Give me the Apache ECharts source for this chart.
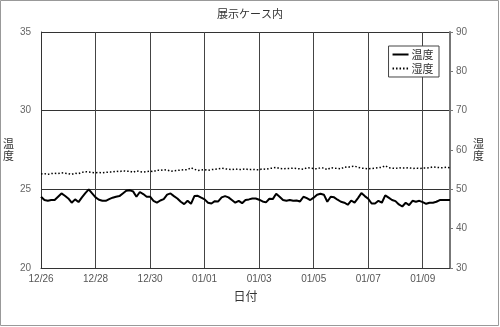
<!DOCTYPE html>
<html>
<head>
<meta charset="utf-8">
<script src="https://cdn.jsdelivr.net/npm/echarts@6/dist/echarts.min.js"></script>
<style>
html,body{margin:0;padding:0;background:#fff;}
#c{width:500px;height:327px;}
</style>
</head>
<body>
<div id="c"></div>
<script>
// Data: samples every 3 hours starting 12/26 00:00
var stepHours = 3;
var xTickLabels = ['12/26','12/28','12/30','01/01','01/03','01/05','01/07','01/09'];
var temperature = [
24.53,24.32,24.27,24.32,24.32,24.53,24.74,24.59,24.42,24.15,24.36,
24.19,24.49,24.76,25.00,24.74,24.49,24.34,24.27,24.27,24.38,
24.47,24.53,24.57,24.74,24.91,24.94,24.87,24.53,24.83,24.70,
24.53,24.53,24.27,24.15,24.29,24.38,24.66,24.74,24.57,24.42,
24.21,24.06,24.27,24.08,24.57,24.59,24.47,24.36,24.15,24.10,
24.25,24.23,24.49,24.57,24.49,24.32,24.15,24.27,24.12,24.32,24.36,24.42,
24.42,24.34,24.23,24.17,24.40,24.38,24.72,24.53,24.32,24.27,
24.32,24.27,24.29,24.23,24.53,24.44,24.32,24.47,24.66,24.72,
24.66,24.21,24.53,24.49,24.34,24.21,24.15,24.02,24.29,24.15,
24.44,24.76,24.57,24.40,24.10,24.10,24.27,24.15,24.62,24.47,
24.32,24.25,24.04,23.91,24.15,24.00,24.27,24.21,24.27,24.19,
24.08,24.15,24.15,24.21,24.32,24.32,24.32,24.32
];
var humidity = [
53.9,54.0,53.8,54.0,54.1,54.0,54.2,54.1,54.0,53.8,54.1,
54.0,54.3,54.5,54.4,54.3,54.2,54.3,54.2,54.3,54.4,
54.4,54.6,54.5,54.7,54.6,54.6,54.3,54.7,54.5,54.4,
54.5,54.6,54.5,54.9,54.8,55.0,54.9,54.6,54.7,54.8,
54.9,55.0,55.0,55.5,55.1,54.8,54.9,55.0,54.8,55.0,
55.1,55.2,55.4,55.2,55.1,55.0,55.2,55.0,55.1,55.2,55.0,55.1,
55.0,55.0,55.2,55.1,55.3,55.4,55.6,55.3,55.2,55.3,
55.3,55.4,55.3,55.2,55.1,55.5,55.4,55.3,55.2,55.5,
55.4,55.0,55.5,55.4,55.3,55.2,55.7,55.6,55.8,55.9,
55.6,55.4,55.3,55.2,55.3,55.4,55.5,55.6,56.0,55.5,
55.4,55.3,55.5,55.4,55.4,55.5,55.3,55.4,55.3,55.4,
55.4,55.5,55.7,55.6,55.5,55.5,55.6,55.5
];

var tempData = temperature.map(function(v,i){return [i*stepHours, v];});
var humData = humidity.map(function(v,i){return [i*stepHours, v];});

var chart = echarts.init(document.getElementById('c'), null, {renderer:'canvas'});
var labelFont = 'Liberation Sans, DejaVu Sans, sans-serif';
var cjk = '"Noto Sans CJK JP", sans-serif';
chart.setOption({
  animation:false,
  backgroundColor:'#fff',
  title:{text:'展示ケース内', left:'center', top:3,
    textStyle:{fontSize:11, fontWeight:'normal', color:'#333', fontFamily:cjk}},
  graphic:[{type:'rect', shape:{x:0.5,y:0.5,width:498,height:325},
    style:{fill:'none', stroke:'#999', lineWidth:1}, silent:true}],
  legend:{
    right:61, top:46, orient:'vertical', itemWidth:16, itemHeight:8, itemGap:3,
    padding:[3,3,3,3], backgroundColor:'#fff', borderColor:'#444', borderWidth:1,
    textStyle:{fontSize:11, color:'#333', fontFamily:cjk, padding:[0,0,0,-2]},
    itemStyle:{opacity:0},
    data:['温度','湿度 ']
  },
  grid:{left:37, right:50, top:32, bottom:59},
  xAxis:{
    type:'value', min:0, max:360, interval:48,
    name:'日付', nameLocation:'middle', nameGap:22,
    nameTextStyle:{fontSize:12, color:'#333', fontFamily:cjk},
    axisLine:{show:true, lineStyle:{color:'#333', width:1}},
    axisTick:{show:false},
    axisLabel:{fontSize:10, color:'#555', margin:6, fontFamily:labelFont,
      showMaxLabel:false,
      formatter:function(v){var i=v/48; return (i===Math.floor(i) && xTickLabels[i])?xTickLabels[i]:'';}},
    splitLine:{show:true, lineStyle:{color:'#444', width:1}}
  },
  yAxis:[{
    type:'value', min:20, max:35, interval:5, position:'left',
    name:'温\n度', nameLocation:'middle', nameRotate:0, nameGap:22,
    nameTextStyle:{fontSize:11, color:'#333', fontFamily:cjk, lineHeight:12},
    axisLine:{show:true, lineStyle:{color:'#333', width:1}},
    axisTick:{show:false},
    axisLabel:{fontSize:10, color:'#666', margin:10, fontFamily:labelFont},
    splitLine:{show:true, lineStyle:{color:'#333', width:1}}
  },{
    type:'value', min:30, max:90, interval:10, position:'right',
    name:'湿\n度', nameLocation:'middle', nameRotate:0, nameGap:23,
    nameTextStyle:{fontSize:11, color:'#333', fontFamily:cjk, lineHeight:12},
    axisLine:{show:true, lineStyle:{color:'#777', width:2}},
    axisTick:{show:true, inside:false, length:3, lineStyle:{color:'#777'}},
    axisLabel:{fontSize:10, color:'#666', margin:6, fontFamily:labelFont},
    splitLine:{show:false}
  }],
  series:[{
    name:'温度', type:'line', yAxisIndex:0, data:tempData, symbol:'none',
    lineStyle:{color:'#000', width:2}, itemStyle:{color:'#000'}
  },{
    name:'湿度 ', type:'line', yAxisIndex:1, data:humData, symbol:'none',
    lineStyle:{color:'#000', width:1.5, type:[1.5,2]}, itemStyle:{color:'#000'}
  }]
});
</script>
</body>
</html>
